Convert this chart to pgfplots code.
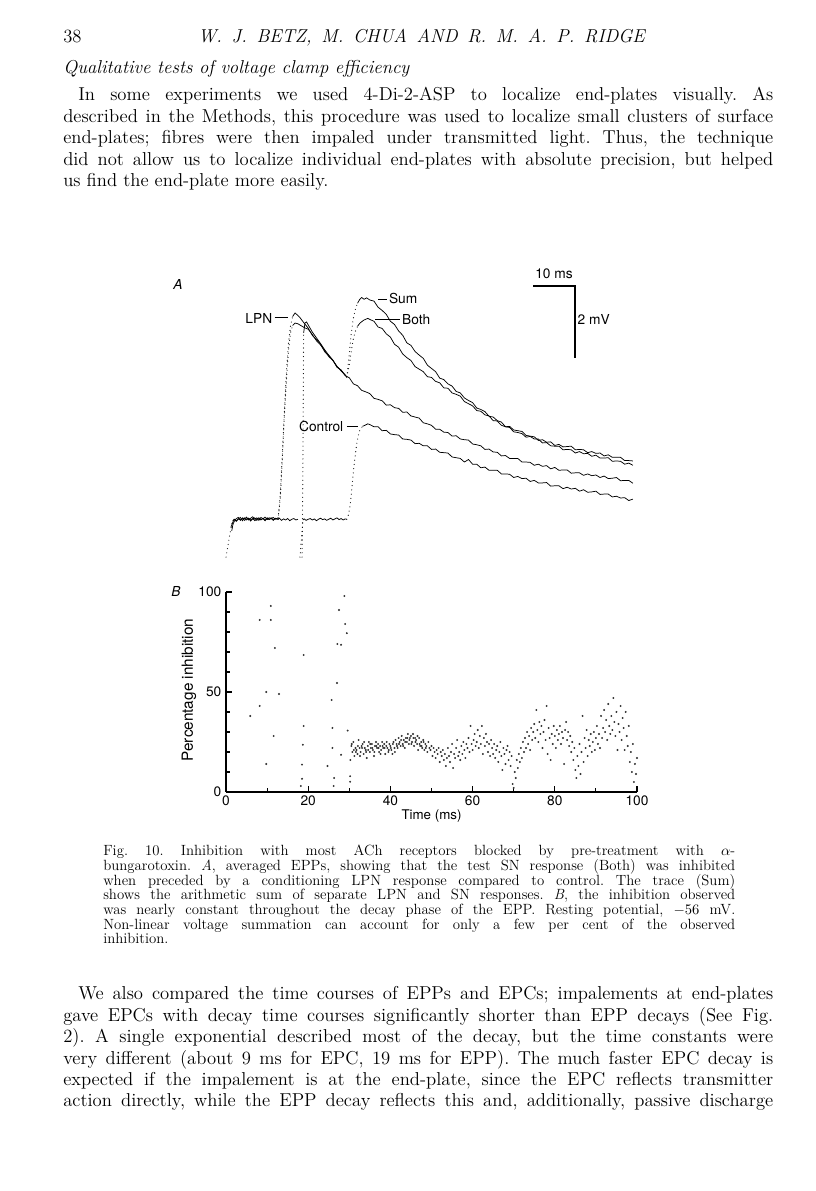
\documentclass[border=0pt]{standalone}
\usepackage{fontspec}
\newfontfamily\heros{TeX Gyre Heros}
\usepackage{pgfplots}
\pgfplotsset{compat=1.18}

% page is laid out in scan pixels (816 x 1191), 1px = 0.75pt
\newcommand\body{\fontsize{14}{16}\selectfont}
\newcommand\capt{\fontsize{11.1}{12}\selectfont}
\newcommand\lab{\heros\fontsize{10.3}{12}\selectfont}

\pgfplotsset{
  trace/.style={black, line width=0.55pt, mark=none},
  rise/.style={black, line width=0.85pt, mark=none, line cap=round, dash pattern=on 0pt off 3.2pt},
}

\begin{document}
\frenchspacing
\begin{tikzpicture}
\begin{scope}[x=0.75pt, y=0.75pt]
\path[use as bounding box, fill=white] (0,0) rectangle (816,1191);

% running head
\node[anchor=base west, inner sep=0, font=\body] at (63,1148) {38};
\node[anchor=base, inner sep=0, font=\body\itshape] at (421.5,1148) {\makebox[335pt][s]{W. J. BETZ, M. CHUA AND R. M. A. P. RIDGE}};
\node[anchor=base west, inner sep=0, font=\body\itshape] at (63,1117) {Qualitative tests of voltage clamp efficiency};

% first paragraph
\begin{scope}[every node/.style={anchor=base west, inner sep=0, font=\body}]
\node at (78,1090) {\makebox[521.25pt][s]{In some experiments we used 4-Di-2-ASP to localize end-plates visually. As}};
\node at (63,1068) {\makebox[532.5pt][s]{described in the Methods, this procedure was used to localize small clusters of surface}};
\node at (63,1047) {\makebox[532.5pt][s]{end-plates; fibres were then impaled under transmitted light. Thus, the technique}};
\node at (63,1025) {\makebox[532.5pt][s]{did not allow us to localize individual end-plates with absolute precision, but helped}};
\node at (63,1004) {us find the end-plate more easily.};

% second paragraph
\node at (78,191) {\makebox[521.25pt][s]{We also compared the time courses of EPPs and EPCs; impalements at end-plates}};
\node at (63,169) {\makebox[532.5pt][s]{gave EPCs with decay time courses significantly shorter than EPP decays (See Fig.}};
\node at (63,148) {\makebox[532.5pt][s]{2). A single exponential described most of the decay, but the time constants were}};
\node at (63,126) {\makebox[532.5pt][s]{very different (about 9 ms for EPC, 19 ms for EPP). The much faster EPC decay is}};
\node at (63,105) {\makebox[532.5pt][s]{expected if the impalement is at the end-plate, since the EPC reflects transmitter}};
\node at (63,84) {\makebox[532.5pt][s]{action directly, while the EPP decay reflects this and, additionally, passive discharge}};
\end{scope}

% caption
\begin{scope}[every node/.style={anchor=base west, inner sep=0, font=\capt}]
\node at (103,335.5) {\makebox[474pt][s]{Fig. 10. Inhibition with most ACh receptors blocked by pre-treatment with $\alpha$-}};
\node at (103,320.5) {\makebox[474pt][s]{bungarotoxin. \textit{A}, averaged EPPs, showing that the test SN response (Both) was inhibited}};
\node at (103,305.5) {\makebox[474pt][s]{when preceded by a conditioning LPN response compared to control. The trace (Sum)}};
\node at (103,291) {\makebox[474pt][s]{shows the arithmetic sum of separate LPN and SN responses. \textit{B}, the inhibition observed}};
\node at (103,276.5) {\makebox[474pt][s]{was nearly constant throughout the decay phase of the EPP. Resting potential, $-56$ mV.}};
\node at (103,261.5) {\makebox[474pt][s]{Non-linear voltage summation can account for only a few per cent of the observed}};
\node at (103,247) {inhibition.};
\end{scope}
\end{scope}

% ---------- panel A: averaged EPPs (time in ms, potential in mV)
\begin{axis}[
  at={(169.5pt,449.25pt)}, anchor=south west,
  width=308.25pt, height=270pt, scale only axis,
  xmin=0, xmax=100, ymin=-2, ymax=8,
  hide axis, clip=false,
]
% stimulus artefacts
\addplot[rise] coordinates {(0.0,-1.03) (0.5,-0.7) (1.0,-0.35) (1.5,-0.08)};
\addplot[rise] coordinates {(18.0,-1.03) (18.3,-0.6) (18.7,-0.05)};

% control (SN alone)
\addplot[trace] coordinates {(1.6,-0.03) (2,0.02) (2.5,-0.02) (3,0.03) (3.5,0.0) (4,0.04) (4.5,-0.01) (5,0.03) (5.5,0.05) (6,0.0) (6.5,0.04) (7,-0.02) (7.5,0.03) (8,0.06) (8.5,0.01) (9,0.04) (9.5,-0.01) (10,0.05) (10.5,0.02) (11,0.06) (11.5,0.0) (12,0.04) (12.5,0.02) (13,0.05) (13.5,-0.01) (14,0.03) (14.5,0.0) (15,0.04) (15.5,-0.02) (16,0.02) (16.5,0.04) (17,0.0) (17.5,0.02)};
\addplot[trace] coordinates {(18.7,0.0) (19,0.03) (19.5,-0.01) (20,0.02) (20.5,0.04) (21,0.0) (21.5,0.03) (22,-0.02) (22.5,0.02) (23,0.05) (23.5,0.01) (24,0.03) (24.5,-0.01) (25,0.02) (25.5,0.05) (26,0.0) (26.5,0.03) (27,0.06) (27.5,0.01) (28,0.04) (28.5,0.0) (29,0.03) (29.4,0.02)};
\addplot[rise] coordinates {(29.4,0.02) (29.8,0.15) (30.2,0.4) (30.6,0.85) (31.0,1.35) (31.4,1.75) (31.8,2.1) (32.2,2.35) (32.6,2.5) (33.2,2.6)};
\addplot[trace] coordinates {(33.2,2.6) (33.8,2.63) (34.5,2.67) (35,2.65) (36,2.59) (37,2.59) (38,2.48) (39,2.49) (40,2.39) (41,2.37) (42,2.36) (43,2.25) (44,2.24) (45,2.22) (46,2.12) (47,2.13) (48,2.06) (49,2.06) (50,1.96) (51,1.97) (52,1.88) (53,1.87) (54,1.86) (55,1.75) (56,1.73) (57,1.71) (58,1.61) (59,1.68) (60,1.55) (61,1.55) (62,1.45) (63,1.47) (64,1.38) (65,1.38) (66,1.38) (67,1.28) (68,1.28) (69,1.27) (70,1.18) (71,1.21) (72,1.15) (73,1.16) (74,1.07) (75,1.10) (76,1.03) (77,1.03) (78,1.04) (79,0.94) (80,0.95) (81,0.95) (82,0.87) (83,0.91) (84,0.86) (85,0.88) (86,0.80) (87,0.84) (88,0.77) (89,0.78) (90,0.80) (91,0.71) (92,0.72) (93,0.72) (94,0.64) (95,0.66) (96,0.61) (97,0.62) (98,0.54) (99,0.58)};

% LPN alone
\addplot[trace] coordinates {(1.4,-0.3) (1.7,-0.12) (2,-0.04) (2.5,0.04) (3,0.07) (3.5,-0.01) (4,0.06) (4.5,0.03) (5,0.08) (5.5,0.0) (6,0.05) (6.5,0.09) (7,0.02) (7.5,0.06) (8,-0.01) (8.5,0.07) (9,0.03) (9.5,0.08) (10,0.01) (10.5,0.06) (11,0.04) (11.5,0.07) (12,0.02) (12.7,0.06)};
\addplot[rise] coordinates {(12.7,0.06) (13.2,0.7) (13.7,1.8) (14.2,3.0) (14.7,4.1) (15.2,4.9) (15.7,5.4) (16.2,5.65)};
\addplot[trace] coordinates {(16.2,5.65) (16.8,5.75) (17.5,5.68) (18,5.62) (19,5.47) (20,5.33) (21,5.13) (22,5.01) (23,4.89) (24,4.67) (25,4.56) (26,4.44) (27,4.24) (28,4.17) (29,4.01) (30,3.95) (31,3.78) (32,3.73) (33,3.60) (34,3.56) (35,3.51) (36,3.38) (37,3.35) (38,3.31) (39,3.19) (40,3.20) (41,3.12) (42,3.10) (43,2.99) (44,3.00) (45,2.89) (46,2.86) (47,2.83) (48,2.70) (49,2.67) (50,2.63) (51,2.52) (52,2.52) (53,2.44) (54,2.43) (55,2.33) (56,2.34) (57,2.25) (58,2.23) (59,2.22) (60,2.11) (61,2.09) (62,2.06) (63,1.96) (64,1.97) (65,1.89) (66,1.88) (67,1.78) (68,1.79) (69,1.71) (70,1.71) (71,1.71) (72,1.61) (73,1.61) (74,1.60) (75,1.52) (76,1.55) (77,1.49) (78,1.51) (79,1.42) (80,1.46) (81,1.38) (82,1.39) (83,1.39) (84,1.30) (85,1.31) (86,1.31) (87,1.24) (88,1.28) (89,1.23) (90,1.25) (91,1.18) (92,1.22) (93,1.15) (94,1.16) (95,1.18) (96,1.09) (97,1.10) (98,1.10) (99,1.02)};

% Both (LPN then SN)
\addplot[trace] coordinates {(1.2,-0.2) (1.6,-0.08) (2,0.02) (2.5,-0.04) (3,0.03) (3.5,0.07) (4,-0.02) (4.5,0.06) (5,0.0) (5.5,0.05) (6,-0.03) (6.5,0.03) (7,0.06) (7.5,-0.01) (8,0.04) (8.5,0.0) (9,0.05) (9.5,-0.02) (10,0.06) (10.5,0.01) (11,0.04) (11.5,-0.01) (12,0.05) (12.7,0.02)};
\addplot[rise] coordinates {(12.7,0.02) (13.2,0.6) (13.7,1.7) (14.2,2.9) (14.7,3.9) (15.2,4.7) (15.7,5.2) (16.2,5.4)};
\addplot[trace] coordinates {(16.2,5.4) (16.8,5.47) (17.5,5.45) (18.5,5.38) (19.3,5.33) (20,5.30) (21,5.15) (22,4.98) (23,4.86) (24,4.71) (25,4.54) (26,4.43) (27,4.27) (28,4.14) (29,4.03) (29.4,3.97)};
\addplot[rise] coordinates {(29.4,3.97) (30.0,4.3) (30.5,4.7) (31,5.05) (31.5,5.25) (32,5.38)};
\addplot[trace] coordinates {(32,5.38) (32.6,5.47) (33.5,5.55) (34.5,5.6) (35,5.57) (36,5.52) (37,5.36) (38,5.32) (39,5.17) (40,5.08) (41,4.88) (42,4.80) (43,4.61) (44,4.51) (45,4.43) (46,4.26) (47,4.19) (48,4.12) (49,3.98) (50,3.96) (51,3.85) (52,3.81) (53,3.67) (54,3.66) (55,3.53) (56,3.49) (57,3.44) (58,3.29) (59,3.23) (60,3.17) (61,3.04) (62,3.02) (63,2.92) (64,2.89) (65,2.76) (66,2.75) (67,2.63) (68,2.59) (69,2.57) (70,2.45) (71,2.43) (72,2.40) (73,2.30) (74,2.32) (75,2.25) (76,2.25) (77,2.14) (78,2.15) (79,2.06) (80,2.05) (81,2.05) (82,1.95) (83,1.96) (84,1.95) (85,1.86) (86,1.90) (87,1.84) (88,1.85) (89,1.77) (90,1.80) (91,1.72) (92,1.72) (93,1.73) (94,1.63) (95,1.64) (96,1.63) (97,1.55) (98,1.58) (99,1.52)};

% Sum (arithmetic sum of LPN and SN)
\addplot[rise] coordinates {(18.5,-1.03) (18.6,0.0) (18.7,1.2) (18.75,2.4) (18.8,3.6) (18.85,4.6) (18.9,5.2)};
\addplot[trace] coordinates {(18.9,5.2) (19.2,5.47) (19.6,5.5) (20.2,5.38) (21,5.22) (22,5.06) (23,4.9) (24,4.73) (25,4.58) (26,4.44) (27,4.26) (28,4.16) (29,4.02) (29.4,3.97)};
\addplot[rise] coordinates {(29.4,3.97) (29.9,4.5) (30.4,5.1) (30.9,5.55) (31.4,5.83) (32.0,6.02)};
\addplot[trace] coordinates {(32.0,6.02) (32.5,6.12) (33.0,6.18) (33.6,6.13) (34.2,6.17) (35,6.11) (36,6.08) (37,5.91) (38,5.82) (39,5.71) (40,5.52) (41,5.43) (42,5.25) (43,5.13) (44,4.92) (45,4.85) (46,4.68) (47,4.58) (48,4.49) (49,4.30) (50,4.21) (51,4.12) (52,3.94) (53,3.90) (54,3.78) (55,3.72) (56,3.57) (57,3.53) (58,3.39) (59,3.32) (60,3.26) (61,3.11) (62,3.07) (63,3.01) (64,2.88) (65,2.86) (66,2.76) (67,2.72) (68,2.59) (69,2.60) (70,2.50) (71,2.48) (72,2.46) (73,2.35) (74,2.33) (75,2.31) (76,2.21) (77,2.23) (78,2.16) (79,2.17) (80,2.07) (81,2.10) (82,2.03) (83,2.04) (84,2.05) (85,1.95) (86,1.96) (87,1.95) (88,1.87) (89,1.90) (90,1.85) (91,1.86) (92,1.78) (93,1.81) (94,1.74) (95,1.74) (96,1.74) (97,1.65) (98,1.65) (99,1.64)};

% labels and calibration bars
\begin{scope}[every node/.style={font=\lab, inner sep=0}]
\node[font=\lab\itshape] at (axis cs:-11.7,6.55) {A};
\node[anchor=east] at (axis cs:11.3,5.6) {LPN};
\draw[line width=0.6pt] (axis cs:11.8,5.62) -- (axis cs:15.2,5.62);
\draw[line width=0.6pt] (axis cs:37.0,6.14) -- (axis cs:39.2,6.14);
\node[anchor=west] at (axis cs:39.6,6.14) {Sum};
\draw[line width=0.6pt] (axis cs:36.3,5.58) -- (axis cs:42.3,5.58);
\node[anchor=west] at (axis cs:42.8,5.58) {Both};
\node[anchor=east] at (axis cs:28.6,2.6) {Control};
\draw[line width=0.6pt] (axis cs:29.4,2.6) -- (axis cs:32.1,2.6);
\node at (axis cs:79.8,6.84) {10 ms};
\draw[line width=0.9pt] (axis cs:74.7,6.5) -- (axis cs:84.9,6.5) -- (axis cs:84.9,4.5);
\node[anchor=west] at (axis cs:85.5,5.56) {2 mV};
\end{scope}
\end{axis}

% ---------- panel B: percentage inhibition
\begin{axis}[
  at={(169.5pt,299.25pt)}, anchor=south west,
  width=308.25pt, height=150pt, scale only axis,
  xmin=0, xmax=100, ymin=0, ymax=100, clip=false,
  axis x line*=bottom, axis y line*=left,
  axis line style={line width=0.9pt, -},
  xtick={0,20,...,100}, ytick={0,50,100},
  minor x tick num=1, minor y tick num=4,
  tick align=inside, major tick length=4.5pt, minor tick length=3pt,
  every tick/.style={black, line width=0.8pt},
  /pgf/number format/assume math mode=true,
  tick label style={font=\lab},
  xticklabel style={yshift=1pt},
  xlabel={Time (ms)}, ylabel={Percentage inhibition},
  xlabel style={font=\heros\fontsize{10}{12}\selectfont, at={(axis description cs:0.5,-0.12)}, anchor=center},
  ylabel style={font=\heros\fontsize{11.5}{12}\selectfont, at={(axis description cs:-0.09,0.51)}, anchor=center},
]
\addplot[only marks, mark=*, mark size=0.5pt, black!80] coordinates {
(5.9,38) (8.2,86) (8.2,43) (9.8,50) (9.8,14) (10.9,93) (10.9,86) (11.9,72) (11.6,28) (12.9,49)
(18.9,68.5) (18.9,33) (18.7,23.6) (18.5,13.7) (18.5,6.6) (18.2,3) (24.7,13) (25.7,46) (25.9,32) (25.9,22)
(26.3,7) (26.2,3) (27,54.5) (27.1,74) (27.5,91) (28,73.6) (28,18.6) (28.8,98) (29,84) (29.4,79.4)
(29.6,30.7) (30.2,7.9) (30.2,5.1)
(30.25,16) (30.5,23) (30.75,20) (31.0,25) (31.25,18) (31.5,22) (31.75,21) (32.0,19) (32.25,26) (32.5,22) (32.75,20) (33.0,23)
(33.25,24) (33.5,19) (33.75,22) (34.0,21) (34.25,17) (34.5,23) (34.75,25) (35.0,20) (35.25,22) (35.5,24) (35.75,21) (36.0,18)
(36.25,23) (36.5,25) (36.75,22) (37.0,24) (37.25,20) (37.5,23) (37.75,21) (38.0,25) (38.25,22) (38.5,24) (38.75,19) (39.0,23)
(39.25,22) (39.5,20) (39.75,24) (40.0,23) (40.25,21) (40.5,19) (40.75,25) (41.0,22) (41.25,26) (41.5,24) (41.75,22) (42.0,27)
(42.25,25) (42.5,23) (42.75,28) (43.0,24) (43.25,26) (43.5,22) (43.75,27) (44.0,25) (44.25,29) (44.5,24) (44.75,27) (45.0,28)
(45.25,25) (45.5,29) (45.75,23) (46.0,27) (46.25,26) (46.5,24) (46.75,21) (47.0,27) (47.25,23) (47.5,25) (47.75,22) (48.0,26)
(48.25,21) (48.5,24) (48.75,23) (49.0,20) (49.25,25) (49.5,22) (49.75,21) (50.0,23) (50.25,18) (50.5,22) (50.75,20) (51.0,17)
(51.25,21) (51.5,19) (51.75,22) (52.0,15) (52.25,20) (52.5,18) (52.75,21) (53.0,16) (53.25,19) (53.5,13) (53.75,17) (54.0,22)
(54.25,18) (54.5,15) (54.75,20) (55.0,24) (55.25,12) (55.5,19) (55.75,17) (56.0,22) (56.25,26) (56.5,18) (56.75,20) (57.0,16)
(57.25,23) (57.5,19) (57.75,25) (58.0,21) (58.25,17) (58.5,24) (58.75,22) (59.0,27) (59.25,20) (59.5,33) (59.75,24) (60.0,21)
(60.25,26) (60.5,29) (60.75,23) (61.0,25) (61.25,31) (61.5,22) (61.75,28) (62.0,24) (62.25,33) (62.5,19) (62.75,27) (63.0,23)
(63.25,29) (63.5,25) (63.75,20) (64.0,24) (64.25,18) (64.5,26) (64.75,22) (65.0,19) (65.25,24) (65.5,17) (65.75,21) (66.0,23)
(66.25,15) (66.5,20) (66.75,25) (67.0,18) (67.25,11) (67.5,22) (67.75,19) (68.0,14) (68.25,21) (68.5,23) (68.75,16) (69.0,20)
(69.25,13) (69.5,18) (69.75,4) (70.0,2) (70.25,10) (70.5,7) (70.75,16) (71.0,12) (71.25,19) (71.5,15) (71.75,22) (72.0,17)
(72.25,25) (72.5,20) (72.75,27) (73.0,22) (73.25,30) (73.5,24) (73.75,28) (74.0,21) (74.25,32) (74.5,26) (74.75,30) (75.0,34)
(75.25,27) (75.5,41) (75.75,31) (76.0,25) (76.25,35) (76.5,29) (76.75,33) (77.0,22) (77.25,30) (77.5,36) (77.75,26) (78.0,43)
(78.25,19) (78.5,32) (78.75,27) (79.0,16) (79.25,29) (79.5,24) (79.75,33) (80.0,28) (80.25,22) (80.5,31) (80.75,26) (81.0,29)
(81.25,33) (81.5,24) (81.75,30) (82.0,27) (82.25,14) (82.5,31) (82.75,35) (83.0,26) (83.25,30) (83.5,23) (83.75,28) (84.0,20)
(84.25,25) (84.5,16) (84.75,22) (85.0,11) (85.25,7) (85.5,18) (85.75,13) (86.0,24) (86.25,9) (86.5,20) (86.75,38) (87.0,15)
(87.25,27) (87.5,22) (87.75,31) (88.0,18) (88.25,26) (88.5,23) (88.75,29) (89.0,20) (89.25,25) (89.5,30) (89.75,21) (90.0,27)
(90.25,33) (90.5,24) (90.75,29) (91.0,22) (91.25,38) (91.5,27) (91.75,32) (92.0,41) (92.25,30) (92.5,36) (92.75,26) (93.0,44)
(93.25,33) (93.5,29) (93.75,38) (94.0,31) (94.25,47) (94.5,35) (94.75,28) (95.0,40) (95.25,21) (95.5,34) (95.75,30) (96.0,43)
(96.25,26) (96.5,37) (96.75,32) (97.0,21) (97.25,40) (97.5,28) (97.75,23) (98.0,33) (98.25,15) (98.5,20) (98.75,10) (99.0,24)
(99.25,5) (99.5,14) (99.75,9) (100.0,17)
(30.6,24) (31.1,21) (31.6,20) (32.1,23) (32.6,18) (33.1,22) (33.6,25) (34.1,20) (34.6,21) (35.1,24) (35.6,22) (36.1,20)
(36.6,23) (37.1,22) (37.6,19) (38.1,23) (38.6,22) (39.1,25) (39.6,21) (40.1,22) (40.6,24) (41.1,20) (41.6,23) (42.1,24)
(42.6,26) (43.1,23) (43.6,25) (44.1,27) (44.6,26) (45.1,24) (45.6,27) (46.1,25) (46.6,28) (47.1,24) (47.6,23) (48.1,25) (48.6,22)
};
\node[font=\lab\itshape, inner sep=0] at (axis cs:-12.2,100) {B};
\end{axis}
\end{tikzpicture}
\end{document}
